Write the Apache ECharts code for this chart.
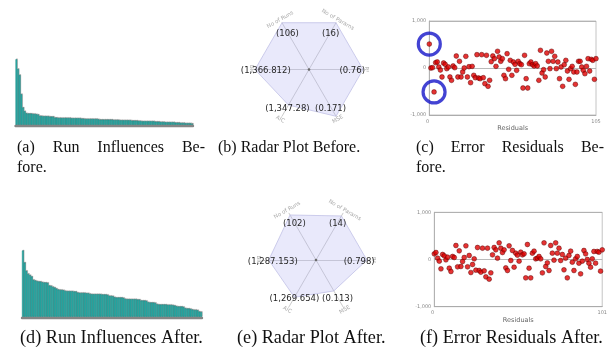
<!DOCTYPE html>
<html>
<head>
<meta charset="utf-8">
<script src="https://cdn.jsdelivr.net/npm/echarts@6/dist/echarts.min.js"></script>
<style>
  html, body { margin: 0; padding: 0; background: #ffffff; }
  #chart { width: 610px; height: 356px; }
</style>
</head>
<body>
<div id="chart"></div>
<script>
// ---- Run influences (sorted, one bar per run) ----
const influencesBefore = [
  19.8, 16.9, 15.1, 9.4, 5.4, 4.3,
  3.7, 3.6, 3.6, 3.6, 3.5, 3.5, 3.4, 3.3,
  2.9, 2.9, 2.8, 2.8, 2.8, 2.8, 2.7, 2.7, 2.7,
  2.4, 2.4, 2.3, 2.3, 2.3, 2.3, 2.3, 2.3, 2.3, 2.3, 2.2, 2.2, 2.2, 2.2, 2.2, 2.2, 2.1, 2.1,
  2.0, 2.0, 2.0, 2.0, 2.0, 2.0, 2.0, 2.0, 1.9,
  1.8, 1.8, 1.8, 1.8, 1.8, 1.8, 1.8, 1.8, 1.7, 1.7, 1.7, 1.7,
  1.6, 1.6, 1.6, 1.6, 1.6, 1.6, 1.6, 1.5, 1.5, 1.5, 1.5,
  1.4, 1.4, 1.3, 1.3, 1.3, 1.3, 1.3, 1.3, 1.3, 1.3, 1.2, 1.2, 1.2,
  1.1, 1.1, 1.1, 1.0, 1.0, 1.0, 1.0, 1.0, 1.0, 0.9, 0.9, 0.9,
  0.8, 0.8, 0.8, 0.7, 0.7, 0.7, 0.7, 0.6
];
const influencesAfter = [
  20.0, 16.4, 13.9, 13.0, 12.6, 12.2,
  11.2, 11.0,
  10.8, 10.7, 10.7,
  10.5, 10.4, 10.4, 10.3,
  9.5, 9.4,
  9.1, 8.9,
  8.6,
  8.3, 8.2, 8.2, 8.1,
  7.9, 7.8, 7.8, 7.8, 7.8, 7.7, 7.7,
  7.4, 7.3, 7.3, 7.3, 7.3, 7.2, 7.2,
  7.0, 6.9, 6.9, 6.9, 6.9, 6.9, 6.9, 6.8, 6.8, 6.8, 6.7,
  6.4, 6.4, 6.3,
  6.0, 5.9, 5.9, 5.9, 5.9, 5.8,
  5.5, 5.4, 5.4, 5.4, 5.4, 5.4, 5.4, 5.3, 5.3,
  5.0, 5.0, 5.0, 4.9,
  4.5, 4.4, 4.4, 4.4, 4.3,
  3.9, 3.8, 3.8, 3.8, 3.8, 3.8, 3.7, 3.7, 3.7, 3.6, 3.5,
  3.3, 3.2, 3.2, 3.2, 3.1,
  2.7, 2.6, 2.6, 2.5,
  2.3, 2.2, 2.2, 2.1,
  1.7, 1.6
];

// ---- Radar plot: model statistics ----
const radarAxes   = ['No of Runs', 'No of Params', 'R²', 'MSE', 'AIC', 'BIC'];
const radarMax    = [106, 16, 1, 0.171, 1347.28, 1366.812];
const radarBefore = [106, 16, 0.76, 0.171, 1347.28, 1366.812];
const radarAfter  = [102, 14, 0.798, 0.113, 1269.654, 1287.153];

// ---- Error residuals per run ----
const residualsBefore = [
  510, 0, 7, -510, 113, 128, 21, -43, -191, 106,
  78, -14, 21, -191, -262, 43, 7, 255, -191, 142,
  -191, -85, 0, 248, -191, 28, -312, 35, -156, -206,
  284, -213, -227, 284, -206, -333, 270, -390, -262, 135,
  255, 199, 35, 355, 234, 142, 199, -156, -227, 305,
  -28, 163, -156, 128, 78, -50, 142, 92, 71, -426,
  270, -227, -426, 92, 128, 71, 43, 92, 43, -262,
  376, -106, -35, -191, 319, 142, -14, 355, 142, 248,
  -14, 128, -227, 21, -390, 71, 163, -64, -241, -14,
  35, -85, -348, -85, 142, 142, 21, -50, -121, 35,
  199, -64, 184, 163, -241, 199
];
const residualsAfter = [
  120, 148, 28, -35, -198, 106, 78, -7, 49, -184,
  -254, 64, 42, 297, -155, 184, -148, -42, 42, 290,
  -155, 85, -276, -106, 14, -226, 254, -233, -269, 240,
  -240, -367, 240, -417, -283, 99, 254, 205, 28, 353,
  240, 148, 205, -177, -233, 290, -21, 191, -163, 134,
  92, -35, 155, 99, 120, -389, 318, -184, -389, 134,
  177, 14, 28, 64, 14, -283, 353, -148, -71, -233,
  297, 134, -14, 353, 134, 240, -21, 106, -219, 28,
  -389, 85, 177, -57, -233, 14, 64, -78, -304, -35,
  191, 120, 0, -78, -163, 14, 170, -78, 170, 155,
  -247, 205
];
const residualTicks = [-1000, 0, 1000];
const outlierLimit = 450;

// ---- Sub-figure captions ----
const captionRows = [
  { words: ['(a)', 'Run', 'Influences', 'Be-'], x0: 17, x1: 205, y: 148, size: 16, justify: true },
  { words: ['fore.'], x0: 17, y: 167.5, size: 16 },
  { words: ['(b) Radar Plot Before.'], x0: 218, y: 148, size: 16 },
  { words: ['(c)', 'Error', 'Residuals', 'Be-'], x0: 416, x1: 604, y: 148, size: 16, justify: true },
  { words: ['fore.'], x0: 416, y: 167.5, size: 16 },
  { words: ['(d) Run Influences After.'], x0: 20, y: 338, size: 18.2 },
  { words: ['(e) Radar Plot After.'], x0: 237, y: 338, size: 18.2 },
  { words: ['(f) Error Residuals After.'], x0: 420, y: 338, size: 18.2 }
];

const chart = echarts.init(document.getElementById('chart'), null, { renderer: 'canvas' });

const SANS = '"DejaVu Sans", Verdana, sans-serif';
const SERIF = '"Liberation Serif", "Times New Roman", serif';

const idx = n => Array.from({ length: n }, (_, i) => i);
const thousands = v => Number(v).toLocaleString('en-US', { maximumFractionDigits: 3 });

// Radar layout
const radarLayout = [
  { center: [309, 69.5], radius: 54 },
  { center: [316, 260], radius: 54 }
];
const START_ANGLE = 120;

function barAxes(gridIndex, count) {
  return {
    x: {
      gridIndex, type: 'category', data: idx(count), boundaryGap: true,
      axisTick: { show: false }, axisLabel: { show: false }, splitLine: { show: false },
      axisLine: { lineStyle: { color: '#858585', width: 2.4 } }, z: 5
    },
    y: { gridIndex, type: 'value', min: 0, max: 20, show: false, splitLine: { show: false } }
  };
}

function scatterAxes(gridIndex, maxX) {
  return {
    x: {
      gridIndex, type: 'value', min: 0, max: maxX, interval: maxX,
      name: 'Residuals', nameLocation: 'middle', nameGap: 6,
      nameTextStyle: { fontSize: 6.5, color: '#666', fontFamily: SANS },
      axisLine: { onZero: false, lineStyle: { color: '#aaaaaa', width: 0.8 } },
      axisTick: { show: false }, splitLine: { show: false },
      axisLabel: { fontSize: 5, color: '#888', margin: 4, fontFamily: SANS, alignMinLabel: 'right' }
    },
    y: {
      gridIndex, type: 'value', min: residualTicks[0], max: residualTicks[2], interval: 1000,
      axisLine: { show: true, lineStyle: { color: '#aaaaaa', width: 0.8 } },
      axisTick: { show: false },
      splitLine: { show: true, lineStyle: { color: '#a8a8a8', width: 0.8 } },
      axisLabel: { fontSize: 5, color: '#888', margin: 3, fontFamily: SANS, formatter: v => thousands(v) }
    }
  };
}

const ba = barAxes(0, influencesBefore.length);
const bd = barAxes(1, influencesAfter.length);
const sc = scatterAxes(2, residualsBefore.length - 1);
const sf = scatterAxes(3, residualsAfter.length - 1);

const barStyle = {
  color: '#31c9c3',
  borderColor: '#16807c',
  borderWidth: 0.45,
  shadowColor: 'rgba(0,0,0,0.28)',
  shadowOffsetX: 0.6,
  shadowOffsetY: -0.8
};

const pointStyle = { color: '#e00000', borderColor: '#5a0000', borderWidth: 0.6 };

function radarComponent(k) {
  return {
    center: radarLayout[k].center,
    radius: radarLayout[k].radius,
    startAngle: START_ANGLE,
    shape: 'polygon',
    splitNumber: 1,
    indicator: radarAxes.map((name, i) => ({ name, min: 0, max: radarMax[i] })),
    axisName: { show: false },
    axisLine: { lineStyle: { color: '#bcbcbc', width: 0.8 } },
    axisTick: { show: false },
    axisLabel: { show: false },
    splitLine: { show: false },
    splitArea: { show: false }
  };
}

function radarSeries(k, values) {
  return {
    type: 'radar', radarIndex: k, silent: true, symbol: 'none', z: 2,
    lineStyle: { color: '#c3c3e4', width: 0.8 },
    areaStyle: { color: 'rgba(186,186,242,0.45)' },
    data: [{ value: values }]
  };
}

// Axis names, value annotations and centre dot for each radar
function radarDecorations(k, values) {
  const [cx, cy] = radarLayout[k].center;
  const R = radarLayout[k].radius;
  const els = [];
  radarAxes.forEach((name, i) => {
    const theta = (START_ANGLE - 60 * i) * Math.PI / 180;
    const nr = R + 3.5;
    let rot = theta - Math.PI / 2;
    while (rot <= -Math.PI / 2 - 1e-6) rot += Math.PI;
    while (rot > Math.PI / 2 + 1e-6) rot -= Math.PI;
    els.push({
      type: 'text', x: cx + nr * Math.cos(theta), y: cy - nr * Math.sin(theta), rotation: rot, z: 10,
      style: { text: name, font: '5.5px ' + SANS, fill: '#a9a9a9',
               align: 'center', verticalAlign: 'middle', textAlign: 'center', textVerticalAlign: 'middle' }
    });
  });
  radarAxes.forEach((name, i) => {
    const theta = (START_ANGLE - 60 * i) * Math.PI / 180;
    const lr = R * 0.8;
    els.push({
      type: 'text', x: cx + lr * Math.cos(theta), y: cy - lr * Math.sin(theta) + 1.5, z: 11,
      style: { text: '(' + thousands(values[i]) + ')', font: '8.5px ' + SANS, fill: '#262626',
               align: 'center', verticalAlign: 'middle', textAlign: 'center', textVerticalAlign: 'middle' }
    });
  });
  els.push({ type: 'circle', shape: { cx, cy, r: 1.3 }, style: { fill: '#6a6a6a' }, z: 12 });
  return els;
}

// Captions, with wrapped lines spread to the column edges
const measureCtx = document.createElement('canvas').getContext('2d');
function captionElements() {
  const els = [];
  captionRows.forEach(row => {
    const font = row.size + 'px ' + SERIF;
    measureCtx.font = font;
    const base = { font, fill: '#111', verticalAlign: 'middle', textVerticalAlign: 'middle',
                   align: 'left', textAlign: 'left' };
    if (row.justify) {
      const widths = row.words.map(w => measureCtx.measureText(w).width);
      const total = widths.reduce((a, b) => a + b, 0);
      const gap = (row.x1 - row.x0 - total) / (row.words.length - 1);
      let x = row.x0;
      row.words.forEach((w, i) => {
        els.push({ type: 'text', x, y: row.y, style: Object.assign({ text: w }, base) });
        x += widths[i] + gap;
      });
    } else {
      els.push({ type: 'text', x: row.x0, y: row.y, style: Object.assign({ text: row.words[0] }, base) });
    }
  });
  return els;
}

const outliers = residualsBefore
  .map((v, i) => [i, v])
  .filter(p => Math.abs(p[1]) > outlierLimit);

const option = {
  animation: false,
  backgroundColor: '#ffffff',
  textStyle: { fontFamily: SANS },
  grid: [
    { left: 15.5, top: 58.7, width: 177.5, height: 67 },                 // (a)
    { left: 22, top: 250.6, width: 180, height: 66.7 },                  // (d)
    { left: 429.3, top: 21, width: 166.7, height: 94, show: true,
      borderColor: '#b5b5b5', borderWidth: 0.8, backgroundColor: 'transparent' },   // (c)
    { left: 434.3, top: 212.3, width: 170, height: 94.4, show: true,
      borderColor: '#b5b5b5', borderWidth: 0.8, backgroundColor: 'transparent' }    // (f)
  ],
  xAxis: [ba.x, bd.x, sc.x, sf.x],
  yAxis: [ba.y, bd.y, sc.y, sf.y],
  radar: [radarComponent(0), radarComponent(1)],
  series: [
    { type: 'bar', xAxisIndex: 0, yAxisIndex: 0, data: influencesBefore,
      barCategoryGap: '0%', itemStyle: barStyle, silent: true },
    { type: 'bar', xAxisIndex: 1, yAxisIndex: 1, data: influencesAfter,
      barCategoryGap: '0%', itemStyle: barStyle, silent: true },
    radarSeries(0, radarBefore),
    radarSeries(1, radarAfter),
    { type: 'scatter', xAxisIndex: 2, yAxisIndex: 2, symbolSize: 4.8, silent: true, z: 3,
      itemStyle: pointStyle, data: residualsBefore.map((v, i) => [i, v]) },
    { type: 'scatter', xAxisIndex: 2, yAxisIndex: 2, symbol: 'circle', symbolSize: 22, silent: true, z: 4,
      itemStyle: { color: 'transparent', borderColor: '#1414c8', borderWidth: 3.2 }, data: outliers },
    { type: 'scatter', xAxisIndex: 3, yAxisIndex: 3, symbolSize: 4.8, silent: true, z: 3,
      itemStyle: pointStyle, data: residualsAfter.map((v, i) => [i, v]) }
  ],
  graphic: [].concat(
    radarDecorations(0, radarBefore),
    radarDecorations(1, radarAfter),
    captionElements()
  )
};

chart.setOption(option);
</script>
</body>
</html>
